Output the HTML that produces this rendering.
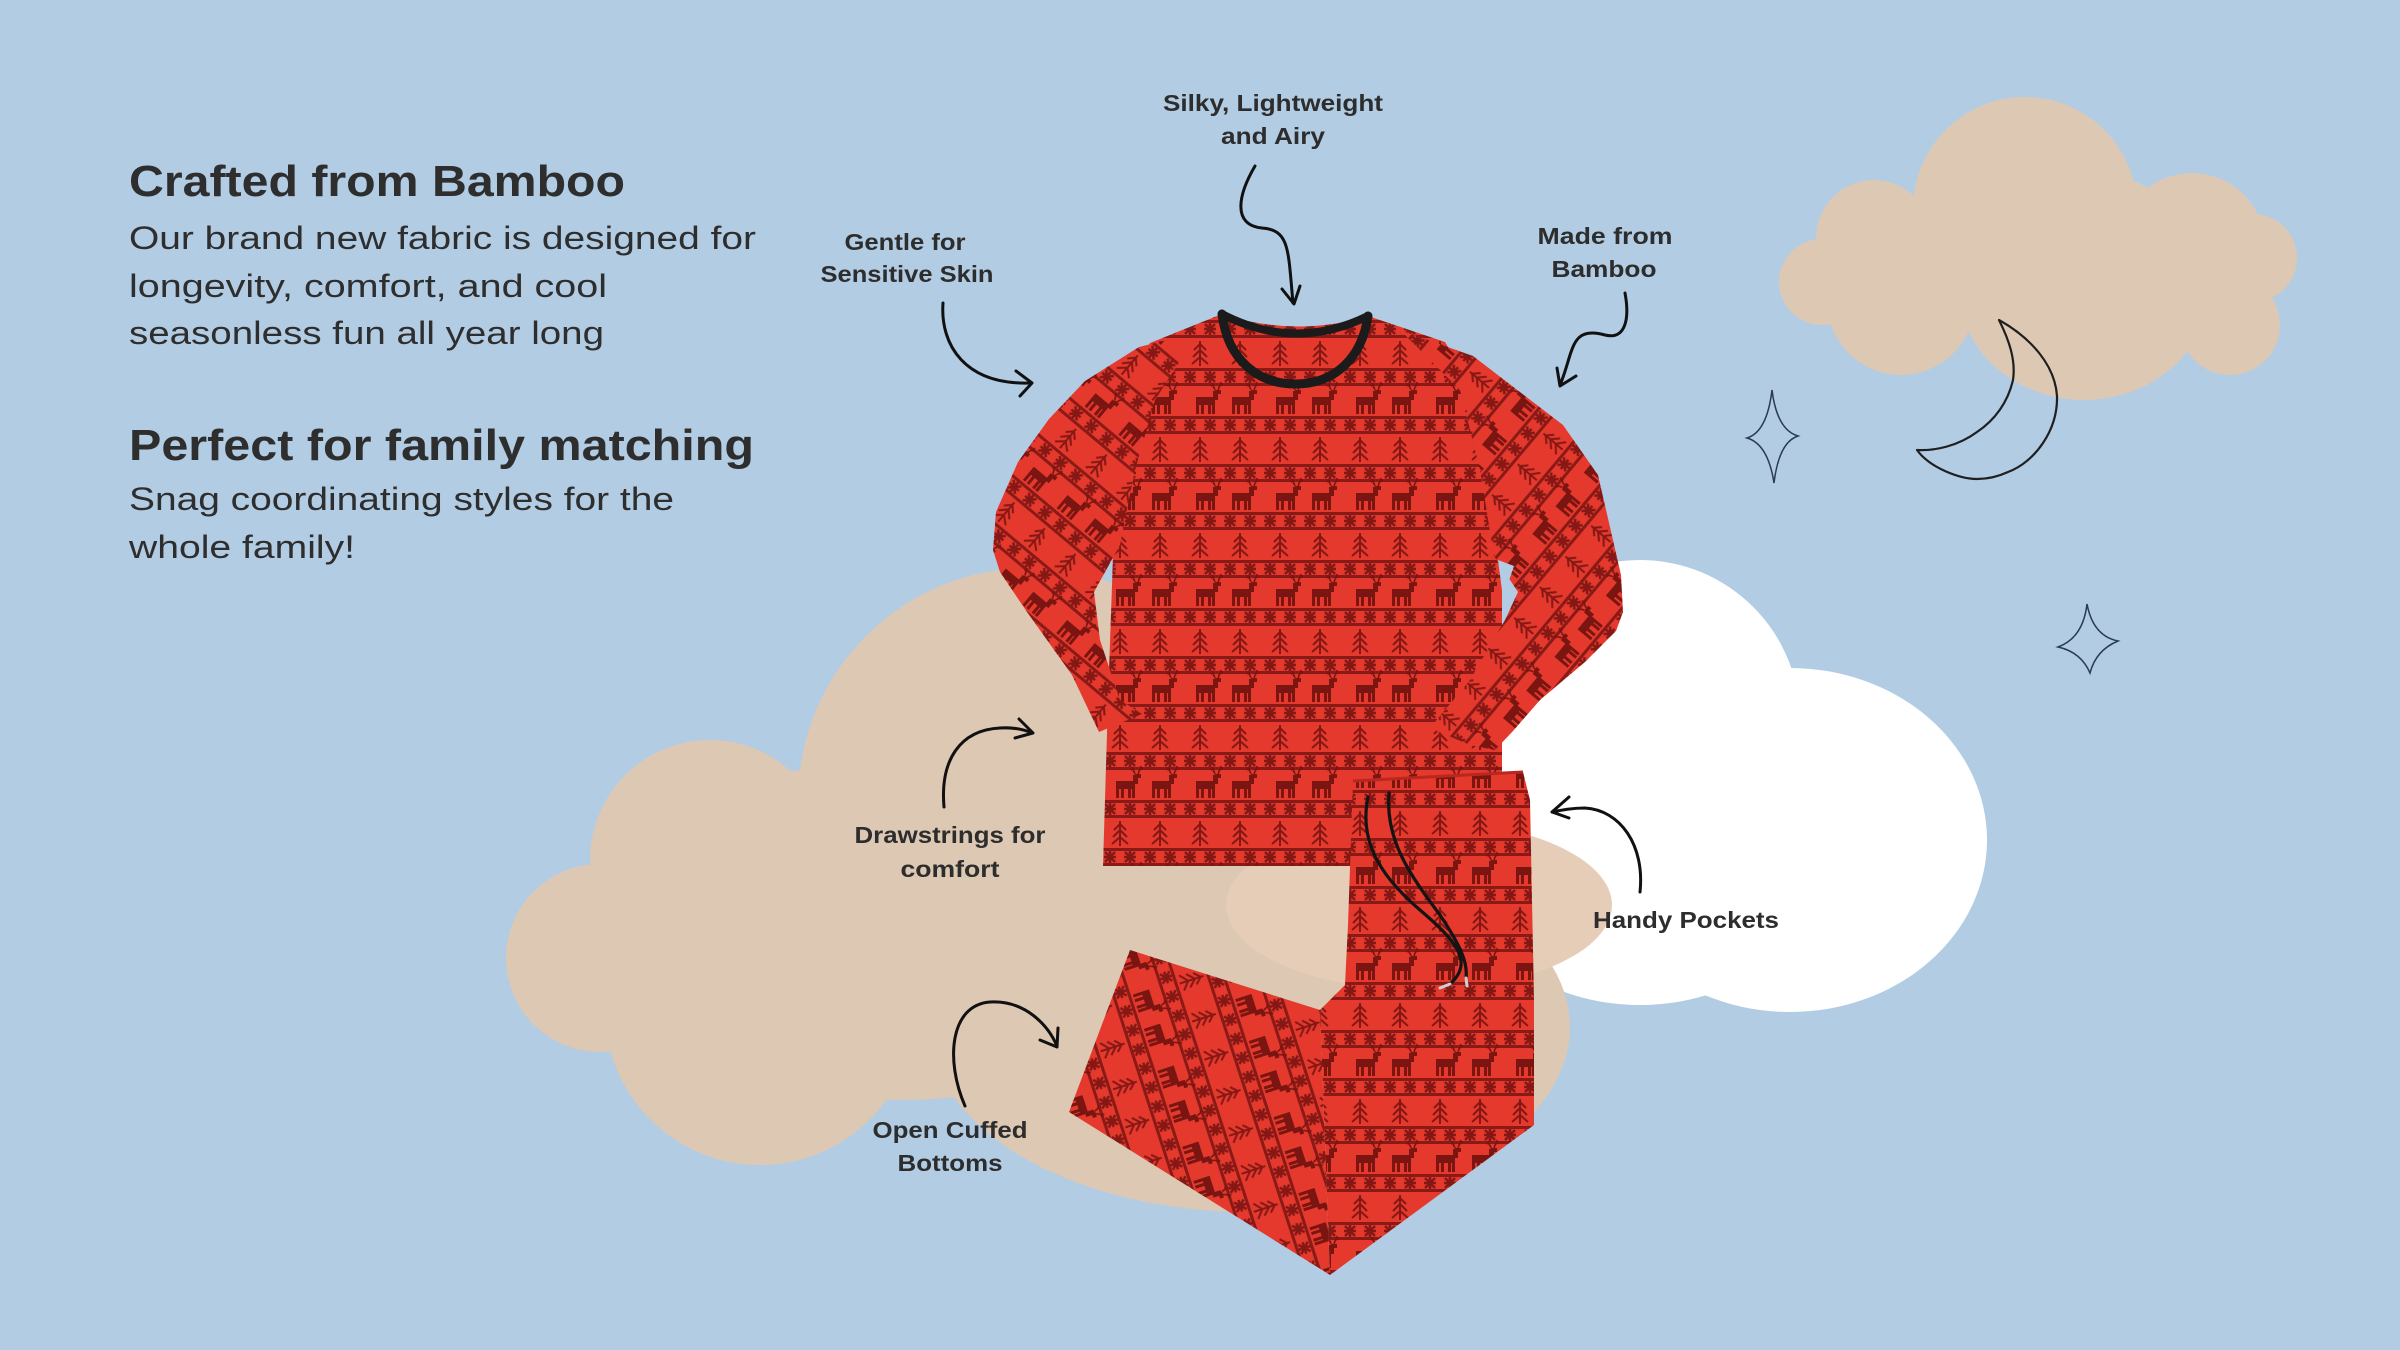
<!DOCTYPE html>
<html>
<head>
<meta charset="utf-8">
<style>
  html,body{margin:0;padding:0;background:#B2CCE4;}
  body{width:2400px;height:1350px;overflow:hidden;}
  svg{display:block;}
  .lbl{font-family:"Liberation Sans",Arial,sans-serif;font-weight:700;font-size:23px;fill:#2d2d2d;}
  .ttl{font-family:"Liberation Sans",Arial,sans-serif;font-weight:700;font-size:44px;fill:#2e2e2e;}
  .bdy{font-family:"Liberation Sans",Arial,sans-serif;font-weight:400;font-size:32px;fill:#2e2e2e;}
</style>
</head>
<body>
<svg width="2400" height="1350" viewBox="0 0 2400 1350" xmlns="http://www.w3.org/2000/svg">
  <defs>
    <g id="tile">
      <rect width="80" height="96" fill="#E4392C"/>
      <g fill="#8A1A17">
        <rect y="0" width="80" height="3"/>
        <rect y="15" width="80" height="3"/>
        <rect y="48" width="80" height="3"/>
        <rect y="63" width="80" height="3"/>
      </g>
      <g stroke="#851815" stroke-width="2.6" fill="none">
        <path d="M4,9h12M10,3v12M5,4l10,10M15,4l-10,10"/>
        <path d="M24,9h12M30,3v12M25,4l10,10M35,4l-10,10"/>
        <path d="M44,9h12M50,3v12M45,4l10,10M55,4l-10,10"/>
        <path d="M64,9h12M70,3v12M65,4l10,10M75,4l-10,10"/>
        <path d="M4,57h12M10,51v12M5,52l10,10M15,52l-10,10"/>
        <path d="M24,57h12M30,51v12M25,52l10,10M35,52l-10,10"/>
        <path d="M44,57h12M50,51v12M45,52l10,10M55,52l-10,10"/>
        <path d="M64,57h12M70,51v12M65,52l10,10M75,52l-10,10"/>
        <path d="M20,21v25M20,24l-6,6M20,24l6,6M20,30l-7,7M20,30l7,7M20,37l-8,7M20,37l8,7" stroke-width="2"/>
        <path d="M60,21v25M60,24l-6,6M60,24l6,6M60,30l-7,7M60,30l7,7M60,37l-8,7M60,37l8,7" stroke-width="2"/>
      </g>
      <g fill="#7A1512">
        <rect x="16" y="77" width="19" height="8"/>
        <rect x="16" y="84" width="3" height="10"/>
        <rect x="21" y="84" width="3" height="10"/>
        <rect x="28" y="84" width="3" height="10"/>
        <rect x="32" y="84" width="3" height="10"/>
        <rect x="33" y="71" width="5" height="9"/>
        <rect x="35" y="70" width="6" height="4"/>
        <rect x="52" y="77" width="19" height="8"/>
        <rect x="52" y="84" width="3" height="10"/>
        <rect x="57" y="84" width="3" height="10"/>
        <rect x="64" y="84" width="3" height="10"/>
        <rect x="68" y="84" width="3" height="10"/>
        <rect x="69" y="71" width="5" height="9"/>
        <rect x="71" y="70" width="6" height="4"/>
      </g>
      <g stroke="#7A1512" stroke-width="1.6" fill="none">
        <path d="M35,70l-3,-7M38,70l3,-8M33,66l-3,-1M40,66l3,-2"/>
        <path d="M71,70l-3,-7M74,70l3,-8M69,66l-3,-1M76,66l3,-2"/>
      </g>
    </g>
    <pattern id="pH" width="80" height="96" patternUnits="userSpaceOnUse" x="1100" y="320"><use href="#tile"/></pattern>
    <pattern id="pL" width="80" height="96" patternUnits="userSpaceOnUse" patternTransform="rotate(40)"><use href="#tile"/></pattern>
    <pattern id="pR" width="80" height="96" patternUnits="userSpaceOnUse" patternTransform="rotate(-50)"><use href="#tile"/></pattern>
    <pattern id="pP" width="80" height="96" patternUnits="userSpaceOnUse" x="1340" y="790"><use href="#tile"/></pattern>
    <pattern id="pLeg" width="80" height="96" patternUnits="userSpaceOnUse" patternTransform="rotate(72)"><use href="#tile"/></pattern>
  </defs>

  <!-- background -->
  <rect width="2400" height="1350" fill="#B2CCE4"/>

  <!-- white cloud -->
  <g fill="#FFFFFF">
    <circle cx="1640" cy="720" r="160"/>
    <ellipse cx="1790" cy="840" rx="197" ry="172"/>
    <ellipse cx="1640" cy="880" rx="170" ry="125"/>
  </g>

  <!-- big beige cloud -->
  <g fill="#DDC8B4">
    <circle cx="1030" cy="800" r="232"/>
    <circle cx="710" cy="860" r="120"/>
    <circle cx="600" cy="958" r="94"/>
    <circle cx="760" cy="1010" r="155"/>
    <ellipse cx="1250" cy="1027" rx="320" ry="185"/>
    <ellipse cx="900" cy="930" rx="300" ry="170"/>
    <rect x="1000" y="820" width="450" height="230"/>
  </g>
  <ellipse cx="1419" cy="905" rx="193" ry="85" fill="#E6CDB7"/>

  <!-- top-right beige cloud -->
  <g fill="#DDC8B4">
    <circle cx="2025" cy="209" r="112"/>
    <circle cx="1874" cy="238" r="58"/>
    <circle cx="1822" cy="282" r="43"/>
    <circle cx="1901" cy="301" r="74"/>
    <ellipse cx="2084" cy="286" rx="126" ry="114"/>
    <circle cx="2230" cy="325" r="50"/>
    <circle cx="2192" cy="246" r="73"/>
    <circle cx="2253" cy="258" r="44"/>
    <rect x="1860" y="230" width="380" height="100"/>
  </g>

  <!-- moon -->
  <path d="M1999,320 C2031,338 2055,365 2057,396 C2058,430 2035,462 2008,472 C1995,478 1985,479 1977,479 C1960,479 1930,468 1917,450 C1935,451 1958,446 1977,432 C1995,420 2008,402 2013,380 C2016,360 2009,340 1999,320 Z" fill="none" stroke="#1f1f1f" stroke-width="2.2" stroke-linejoin="round"/>

  <!-- stars -->
  <g fill="none" stroke="#2b3a55" stroke-width="1.5">
    <path d="M1772,390 Q1777,430 1798,436 Q1779,442 1774,483 Q1768,444 1747,438 Q1767,432 1772,390 Z"/>
    <path d="M2087,604 Q2093,636 2118,641 Q2096,650 2090,673 Q2081,652 2058,647 Q2083,638 2087,604 Z"/>
  </g>

  <!-- shirt body -->
  <path d="M1222,314 L1150,343 L1118,400 L1112,585 L1108,700 L1103,866 L1502,866 L1502,560 L1492,420 L1445,342 L1368,316 Q1295,338 1222,314 Z" fill="url(#pH)"/>
  <!-- left sleeve -->
  <path d="M1175,338 L1139,347 L1085,381 L1049,419 L1018,462 L996,512 L993,550 L1000,572 L1027,612 L1072,675 L1099,732 L1142,714 L1120,700 L1100,640 L1094,592 L1120,545 L1135,470 L1155,400 L1190,345 Z" fill="url(#pL)"/>
  <!-- right sleeve -->
  <path d="M1400,330 L1473,356 L1563,425 L1598,475 L1621,575 L1623,612 L1616,631 L1585,662 L1540,700 L1513,731 L1495,750 L1470,745 L1430,728 L1470,680 L1505,620 L1518,592 L1494,556 L1480,470 L1460,390 Z" fill="url(#pR)"/>
  <!-- small notch -->
  <path d="M1498,560 L1514,566 L1503,598 Z" fill="#B2CCE4"/>
  <!-- collar -->
  <path d="M1222,314 Q1295,352 1368,316" fill="none" stroke="#1b1b1b" stroke-width="8" stroke-linecap="round"/>
  <path d="M1222,314 C1228,362 1260,384 1295,384 C1335,384 1362,358 1368,316" fill="none" stroke="#1b1b1b" stroke-width="9" stroke-linecap="round"/>

  <!-- pants -->
  <path d="M1130,950 L1069,1112 L1330,1275 L1320,1010 Z" fill="url(#pLeg)"/>
  <path d="M1353,781 L1523,772 L1530,800 L1534,1000 L1534,1125 L1330,1275 L1320,1010 L1345,985 L1348,925 Z" fill="url(#pP)"/>
  <path d="M1353,781 L1523,772" stroke="#B8281F" stroke-width="3" fill="none"/>
  <!-- drawstrings -->
  <g fill="none" stroke="#141414" stroke-width="3.2" stroke-linecap="round">
    <path d="M1368,797 C1358,845 1385,880 1420,910 C1455,940 1475,962 1450,984"/>
    <path d="M1389,793 C1385,840 1410,875 1440,915 C1460,945 1468,962 1466,978"/>
  </g>
  <g stroke="#cfcfcf" stroke-width="3" stroke-linecap="round">
    <path d="M1450,984 L1440,988"/>
    <path d="M1466,978 L1467,986"/>
  </g>

  <!-- arrows -->
  <g fill="none" stroke="#111" stroke-width="3" stroke-linecap="round" stroke-linejoin="round">
    <path d="M1255,166 C1238,195 1232,225 1262,228 C1290,230 1288,250 1293,303"/>
    <path d="M1282,289 L1294,304 L1300,286"/>
    <path d="M943,303 C940,345 965,385 1030,383"/>
    <path d="M1016,371 L1032,383 L1020,396"/>
    <path d="M1625,293 C1630,320 1625,340 1605,335 C1580,328 1575,340 1570,355 C1566,368 1564,376 1560,385"/>
    <path d="M1557,368 L1560,386 L1576,376"/>
    <path d="M944,807 C940,760 960,730 1000,728 C1015,727 1025,730 1032,733"/>
    <path d="M1019,719 L1033,733 L1015,738"/>
    <path d="M965,1106 C945,1060 950,1005 990,1002 C1025,1000 1048,1025 1057,1046"/>
    <path d="M1040,1040 L1057,1047 L1058,1028"/>
    <path d="M1640,892 C1645,845 1620,810 1585,808 C1572,808 1562,810 1552,812"/>
    <path d="M1569,797 L1552,812 L1569,818"/>
  </g>

  <!-- labels -->
  <text class="lbl" x="1273" y="111" text-anchor="middle" textLength="220" lengthAdjust="spacingAndGlyphs">Silky, Lightweight</text>
  <text class="lbl" x="1273" y="144" text-anchor="middle" textLength="104" lengthAdjust="spacingAndGlyphs">and Airy</text>
  <text class="lbl" x="905" y="250" text-anchor="middle" textLength="121" lengthAdjust="spacingAndGlyphs">Gentle for</text>
  <text class="lbl" x="907" y="282" text-anchor="middle" textLength="173" lengthAdjust="spacingAndGlyphs">Sensitive Skin</text>
  <text class="lbl" x="1605" y="244" text-anchor="middle" textLength="135" lengthAdjust="spacingAndGlyphs">Made from</text>
  <text class="lbl" x="1604" y="277" text-anchor="middle" textLength="105" lengthAdjust="spacingAndGlyphs">Bamboo</text>
  <text class="lbl" x="950" y="843" text-anchor="middle" textLength="191" lengthAdjust="spacingAndGlyphs">Drawstrings for</text>
  <text class="lbl" x="950" y="877" text-anchor="middle" textLength="99" lengthAdjust="spacingAndGlyphs">comfort</text>
  <text class="lbl" x="950" y="1138" text-anchor="middle" textLength="155" lengthAdjust="spacingAndGlyphs">Open Cuffed</text>
  <text class="lbl" x="950" y="1171" text-anchor="middle" textLength="105" lengthAdjust="spacingAndGlyphs">Bottoms</text>
  <text class="lbl" x="1593" y="928" textLength="186" lengthAdjust="spacingAndGlyphs">Handy Pockets</text>

  <!-- left text -->
  <text class="ttl" x="129" y="196" textLength="496" lengthAdjust="spacingAndGlyphs">Crafted from Bamboo</text>
  <text class="bdy" x="129" y="249" textLength="627" lengthAdjust="spacingAndGlyphs">Our brand new fabric is designed for</text>
  <text class="bdy" x="129" y="297" textLength="478" lengthAdjust="spacingAndGlyphs">longevity, comfort, and cool</text>
  <text class="bdy" x="129" y="344" textLength="475" lengthAdjust="spacingAndGlyphs">seasonless fun all year long</text>
  <text class="ttl" x="129" y="460" textLength="625" lengthAdjust="spacingAndGlyphs">Perfect for family matching</text>
  <text class="bdy" x="129" y="510" textLength="545" lengthAdjust="spacingAndGlyphs">Snag coordinating styles for the</text>
  <text class="bdy" x="129" y="558" textLength="226" lengthAdjust="spacingAndGlyphs">whole family!</text>
</svg>
</body>
</html>
